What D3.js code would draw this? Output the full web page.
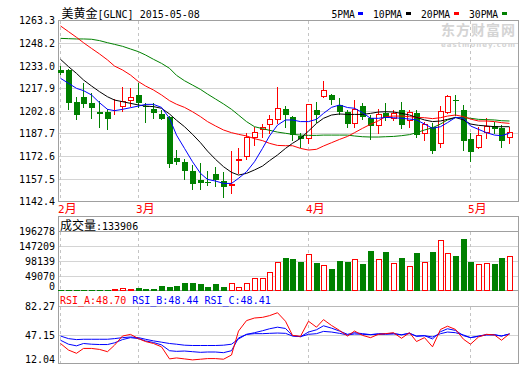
<!DOCTYPE html>
<html><head><meta charset="utf-8">
<script src="https://cdn.jsdelivr.net/npm/d3@7/dist/d3.min.js"></script>
<style>body{margin:0;background:#fff;}svg{display:block;}</style>
</head><body>
<svg id="c" width="520" height="365"></svg>
<script>
// ---------- data ----------
const titleName = "美黄金";
const titleCode = "[GLNC] 2015-05-08";
const months = ["2月", "3月", "4月", "5月"];
const monthFirstIndex = [0, 10, 32, 53];
const maNames = ["5PMA", "10PMA", "20PMA", "30PMA"];
const priceTicks = [1263.3, 1248.2, 1233.0, 1217.9, 1202.8, 1187.7, 1172.6, 1157.5, 1142.4];
const volTicks = [0, 49070, 98139, 147209, 196278];
const rsiTicks = [12.04, 47.15, 82.27];
const volLabel = "成交量:133906";
const rsiLabels = ["RSI_A:48.70", "RSI_B:48.44", "RSI_C:48.41"];

const openP = [1230.4,1230.4,1208.8,1212.3,1208.1,1202.3,1202.3,1201.2,1205.4,1209.4,1213.7,1206.3,1204.5,1201.0,1199.2,1171.8,
  1168.7,1162.9,1156.9,1155.6,1160.9,1156.4,1152.9,1169.8,1172.5,1184.7,1190.3,1193.4,1197.0,1204.1,1198.7,1186.3,
  1184.3,1203.6,1212.1,1213.4,1207.0,1202.1,1194.1,1206.3,1198.5,1193.0,1201.9,1197.6,1203.6,1196.3,1201.4,1187.4,
  1192.5,1180.9,1201.9,1210.3,1203.6,1184.3,1178.0,1188.1,1193.0,1191.4,1184.7];
const highP = [1233.3,1230.9,1212.5,1221.9,1215.2,1209.4,1204.1,1210.8,1219.2,1218.1,1221.9,1208.1,1208.1,1203.6,1199.6,1176.9,
  1170.7,1166.9,1168.0,1163.1,1165.8,1162.4,1176.2,1178.0,1188.1,1192.1,1194.3,1200.3,1218.8,1206.3,1199.6,1188.1,
  1207.4,1209.2,1223.0,1214.3,1211.4,1203.6,1210.3,1208.1,1200.3,1204.1,1208.1,1203.6,1209.2,1203.6,1203.6,1195.9,
  1194.7,1206.3,1213.7,1213.7,1207.0,1188.1,1192.5,1198.1,1195.9,1193.6,1192.5];
const lowP = [1227.7,1204.1,1197.6,1205.4,1198.5,1192.5,1191.2,1201.0,1203.2,1206.3,1205.9,1195.9,1198.5,1197.4,1165.8,1167.3,
  1157.3,1150.6,1150.6,1153.5,1152.9,1145.3,1148.4,1161.8,1170.7,1180.3,1185.8,1188.1,1195.2,1192.5,1183.6,1179.1,
  1181.4,1195.9,1212.1,1207.4,1201.0,1192.5,1192.5,1197.4,1184.5,1188.5,1197.0,1197.0,1191.4,1192.5,1185.8,1183.6,
  1175.1,1178.7,1201.4,1200.3,1176.9,1169.8,1178.0,1184.7,1188.1,1179.1,1181.4];
const closeP = [1228.6,1208.5,1200.5,1207.9,1205.2,1201.2,1197.9,1201.5,1209.7,1212.5,1208.5,1205.4,1201.9,1197.4,1167.3,1169.1,
  1163.1,1154.2,1155.1,1155.2,1156.9,1152.0,1154.2,1170.7,1185.4,1188.7,1192.1,1197.4,1204.8,1200.3,1186.7,1184.0,
  1207.4,1200.3,1217.0,1210.1,1202.5,1194.3,1204.3,1199.2,1193.0,1200.8,1198.1,1201.9,1193.6,1202.1,1186.9,1194.1,
  1176.5,1202.9,1213.0,1209.4,1183.2,1175.8,1186.9,1193.0,1190.7,1183.2,1188.7];

const ma5 = [1224.8,1221.5,1218.1,1216.6,1213.7,1208.5,1204.1,1203.2,1204.1,1205.2,1206.3,1207.4,1207.4,1205.4,1198.1,1186.9,
  1178.0,1169.1,1161.3,1157.3,1156.2,1154.6,1154.6,1158.0,1162.4,1169.1,1178.0,1186.3,1193.6,1197.0,1197.0,1195.9,1195.9,1197.4,1201.4,1205.4,1207.0,1205.3,
  1204.8,1201.9,1198.1,1198.1,1198.7,1198.5,1198.1,1197.6,1197.0,1194.3,1191.4,1192.5,1195.2,1198.7,1198.1,1193.0,1190.7,1188.5,1186.9,1186.5,1188.1];
const ma10 = [1237.5,1232.6,1228.1,1223.7,1219.7,1215.9,1212.5,1210.3,1209.2,1208.1,1207.0,1206.3,1205.9,1204.8,1201.0,1196.8,
  1192.5,1187.4,1181.8,1176.2,1170.7,1165.8,1162.0,1160.2,1161.3,1163.6,1166.2,1169.8,1173.6,1178.0,1181.4,1184.7,1189.6,1194.7,1198.1,1200.3,1201.0,1200.7,
  1200.7,1200.7,1201.4,1202.3,1202.5,1202.3,1201.4,1200.3,1198.7,1197.0,1195.9,1196.3,1197.4,1198.7,1197.0,1194.3,1193.4,1193.0,1192.5,1192.5,1192.5];
const ma20 = [1259.8,1256.0,1252.2,1248.6,1244.8,1241.1,1237.1,1233.0,1230.4,1227.0,1222.6,1219.7,1217.0,1213.7,1209.9,1207.5,
  1205.4,1202.5,1199.2,1195.9,1193.0,1190.3,1188.5,1187.4,1186.3,1184.5,1183.2,1181.4,1180.0,1179.8,1179.8,1178.0,1176.9,1177.4,1179.6,1181.8,1184.0,1186.0,
  1188.5,1191.4,1194.1,1196.5,1199.2,1199.6,1199.6,1199.2,1198.7,1198.5,1197.9,1198.5,1199.6,1200.3,1199.2,1197.6,1196.3,1196.3,1195.9,1195.2,1194.7];
const ma30 = [1251.5,1251.3,1251.1,1251.1,1250.9,1250.0,1248.6,1247.5,1246.2,1244.4,1242.6,1240.4,1237.5,1234.8,1231.5,1226.8,
  1223.2,1220.3,1217.4,1214.3,1211.0,1207.7,1204.1,1200.3,1195.9,1192.5,1191.2,1190.1,1188.9,1188.1,1187.4,1186.9,1186.7,1186.7,1186.9,1186.9,1186.9,1186.9,
  1186.3,1185.8,1185.6,1185.6,1185.8,1186.0,1186.5,1187.2,1188.5,1190.3,1191.8,1194.3,1197.0,1198.5,1198.7,1198.1,1197.4,1197.2,1197.0,1196.5,1196.3];

const volume = [3300,3000,3500,3300,3000,3300,3600,6700,11000,5600,10000,7800,7800,17800,14500,16700,
  27800,27800,24500,14500,23400,14500,26700,14500,26700,42300,
  42300,63400,96800,110200,106800,96800,123500,93500,86800,73500,100200,96800,106800,90200,133600,106800,130200,93500,
  110200,83500,126900,96800,130200,167000,126900,116900,170300,96800,90200,93500,90200,110200,116900];

const rsiA = [36.7,28.6,24.6,30.6,30.6,29.4,26.6,34.6,45.9,47.9,42.7,39.1,36.7,32.6,17.7,18.9,17.7,16.5,17.3,18.1,18.1,17.3,22.5,52.0,64.9,68.1,
  68.9,71.0,74.6,64.1,46.7,45.5,64.1,56.8,66.1,58.9,52.8,45.9,52.0,46.7,43.9,48.0,48.8,50.0,43.1,50.0,39.1,43.9,32.6,54.0,58.0,54.0,41.9,35.8,44.7,48.0,47.2,40.7,48.7];
const rsiB = [40.7,35.8,33.8,36.7,35.8,35.4,35.4,37.5,41.5,43.9,42.7,39.9,37.9,35.0,27.8,27.0,27.4,26.6,25.8,26.2,26.2,25.4,27.8,43.5,47.9,50.0,
  52.4,54.8,56.8,55.2,46.3,45.1,50.8,53.6,58.5,55.6,52.0,48.0,50.0,48.8,47.6,48.8,48.8,49.2,47.2,49.6,45.5,46.3,42.3,51.2,54.8,52.8,46.3,43.9,45.9,47.6,47.6,45.9,48.44];
const rsiC = [45.9,42.7,41.5,41.9,41.9,41.9,41.9,42.7,43.9,44.7,43.9,41.9,39.9,38.3,36.7,35.8,34.6,34.2,34.2,34.2,34.2,34.6,35.8,42.3,47.9,48.8,
  48.8,49.2,49.6,49.2,45.9,45.1,48.0,48.8,51.6,50.8,49.2,47.2,48.4,48.0,47.6,48.0,48.0,48.4,47.6,48.8,45.9,46.3,44.7,48.8,50.8,50.0,47.2,43.9,45.5,47.2,47.2,45.9,48.41];

// ---------- setup ----------
const N = closeP.length;
const RED = "#ff0000", GREEN = "#008000", BLUE = "#0000ff", BLACK = "#000000";
const maColors = [BLUE, BLACK, RED, GREEN];
const maSeries = [ma5, ma10, ma20, ma30];
const BORDER = "#a0a0a0", GRID = "#d4d4d4", DASH = "#c4c4c4";
const MONO = "'DejaVu Sans Mono', monospace";
const CJK = "'Noto Sans CJK SC', sans-serif";

const svg = d3.select("#c");
const L = 58.5, R = 518.5;
const snap = v => Math.floor(v) + 0.5;

const x = d3.scaleBand().domain(d3.range(N)).range([57.4, 57.4 + N * 7.74]);
const cx = i => Math.round(x(i) + x.bandwidth() / 2);

const y = d3.scaleLinear().domain([1142.4, 1263.3]).range([201.7, 20.7]);
const yv = d3.scaleLinear().domain([0, 196278]).range([291, 231.5]);
const yr = d3.scaleLinear().domain([12.04, 82.27]).range([363.5, 306.5]);

const pTop = snap(y(1263.3)), pBot = snap(y(1142.4));
const vTop = 216.5, vPlotTop = snap(yv(196278)), vBot = 290.5;
const rPlotTop = snap(yr(82.27)), rBot = snap(yr(12.04));

function mixed(g, str, px, py, color, latinSize, cjkSize) {
  const t = g.append("text").attr("x", px).attr("y", py).attr("fill", color);
  const parts = str.match(/[\u3000-\u9fff]+|[^\u3000-\u9fff]+/g);
  parts.forEach(p => {
    const isCjk = /[\u3000-\u9fff]/.test(p);
    t.append("tspan").attr("font-family", isCjk ? CJK : MONO)
      .attr("font-size", isCjk ? cjkSize : latinSize).text(p);
  });
  return t;
}

// ---------- watermark ----------
const wm = svg.append("g");
wm.append("text").attr("x", 441).attr("y", 35).attr("font-family", CJK).attr("font-weight", "bold")
  .attr("font-size", 14).attr("fill", "#d4d4d4").attr("textLength", 74).text("东方财富网");
wm.append("text").attr("x", 441).attr("y", 47).attr("font-family", "'DejaVu Sans', sans-serif").attr("font-weight", "bold")
  .attr("font-size", 7).attr("fill", "#d4d4d4").attr("textLength", 74).text("eastmoney.com");

// ---------- gridlines ----------
const grid = svg.append("g").attr("shape-rendering", "crispEdges");
priceTicks.slice(1, -1).forEach(t => grid.append("line").attr("x1", L).attr("x2", R)
  .attr("y1", snap(y(t))).attr("y2", snap(y(t))).attr("stroke", GRID));
volTicks.slice(1, -1).forEach(t => grid.append("line").attr("x1", L).attr("x2", R)
  .attr("y1", snap(yv(t))).attr("y2", snap(yv(t))).attr("stroke", GRID));
grid.append("line").attr("x1", L).attr("x2", R).attr("y1", snap(yr(47.15))).attr("y2", snap(yr(47.15))).attr("stroke", GRID);

// month dashed lines
monthFirstIndex.forEach(i => {
  const xx = cx(i) - 0.5;
  [[pTop, pBot], [vPlotTop, vBot], [rPlotTop, rBot]].forEach(([a, b]) =>
    grid.append("line").attr("x1", xx).attr("x2", xx).attr("y1", a).attr("y2", b)
      .attr("stroke", DASH).attr("stroke-dasharray", "3,3"));
});

// ---------- frames ----------
const fr = svg.append("g").attr("shape-rendering", "crispEdges").attr("fill", "none").attr("stroke", BORDER);
fr.append("rect").attr("x", L).attr("y", pTop).attr("width", R - L).attr("height", pBot - pTop);
fr.append("rect").attr("x", L).attr("y", vTop).attr("width", R - L).attr("height", vBot - vTop);
fr.append("rect").attr("x", L).attr("y", vBot).attr("width", R - L).attr("height", rBot - vBot);
fr.append("line").attr("x1", L).attr("x2", R).attr("y1", vPlotTop).attr("y2", vPlotTop);
fr.append("line").attr("x1", L).attr("x2", R).attr("y1", rPlotTop).attr("y2", rPlotTop).attr("stroke", "#b8b8b8");

// ---------- axes ----------
function yAxis(scale, ticks, fmt, bottomShift) {
  const g = svg.append("g").attr("transform", `translate(${L},0)`)
    .call(d3.axisLeft(scale).tickValues(ticks).tickFormat(fmt).tickSize(0).tickPadding(3.5));
  g.select(".domain").remove();
  g.selectAll("text").attr("font-family", MONO).attr("font-size", 10).attr("fill", "#000").attr("dy", "0.3em");
  if (bottomShift) g.selectAll(".tick").filter(d => d === ticks[0]).select("text").attr("dy", "-0.15em");
  return g;
}
yAxis(y, priceTicks, d3.format(".1f"), false);
yAxis(yv, volTicks, d3.format("d"), true);
yAxis(yr, rsiTicks, d3.format(".2f"), true);

// ---------- header ----------
const head = svg.append("g");
mixed(head, titleName + titleCode, 61.5, 17.5, "#000", 10, 12);
const leg = head.append("g");
let lx = 331.5;
maNames.forEach((n, k) => {
  const t = leg.append("text").attr("x", lx).attr("y", 17.5).attr("font-family", MONO)
    .attr("font-size", 9.7).attr("fill", "#000").text(n);
  const w = t.node().getComputedTextLength();
  leg.append("rect").attr("x", Math.round(lx + w + 3.5)).attr("y", 12).attr("width", 5).attr("height", 3)
    .attr("fill", maColors[k]).attr("shape-rendering", "crispEdges");
  lx = Math.round(lx + w + 3.5) + 5 + 10;
});

// month labels
monthFirstIndex.forEach((i, k) => mixed(svg, months[k], cx(i) - 3, 213, RED, 11, 12));

// volume & rsi labels
mixed(svg, volLabel, 60, 230, "#000", 10, 12);
let rx = 60;
rsiLabels.forEach((s, k) => {
  const t = svg.append("text").attr("x", rx).attr("y", 304).attr("font-family", MONO).attr("font-size", 10)
    .attr("fill", k === 0 ? RED : BLUE).text(s);
  rx += t.node().getComputedTextLength() + 6;
});

// ---------- candles ----------
const cg = svg.append("g").attr("shape-rendering", "crispEdges");
d3.range(N).forEach(i => {
  const up = closeP[i] >= openP[i];
  const col = up ? RED : GREEN;
  const c = cx(i);
  const yt = Math.round(y(Math.max(openP[i], closeP[i])));
  const yb = Math.max(yt + 1, Math.round(y(Math.min(openP[i], closeP[i]))));
  cg.append("line").attr("x1", c - 0.5).attr("x2", c - 0.5)
    .attr("y1", Math.round(y(highP[i]))).attr("y2", Math.round(y(lowP[i])) + 1).attr("stroke", col);
  if (up) {
    cg.append("rect").attr("x", c - 2.5).attr("y", yt + 0.5).attr("width", 5).attr("height", Math.max(0, yb - yt - 1))
      .attr("fill", "#fff").attr("stroke", col);
  } else {
    cg.append("rect").attr("x", c - 3).attr("y", yt).attr("width", 6).attr("height", yb - yt).attr("fill", col);
  }
});

// ---------- moving averages ----------
svg.append("clipPath").attr("id", "pclip").append("rect")
  .attr("x", L).attr("y", pTop).attr("width", R - L).attr("height", pBot - pTop);
const maG = svg.append("g").attr("clip-path", "url(#pclip)");
const maLine = d3.line().x((d, i) => cx(i) - 0.5).y(d => y(d));
[ma30, ma20, ma10, ma5].forEach((s) => {
  maG.append("path").attr("d", maLine(s)).attr("fill", "none")
    .attr("stroke", maColors[maSeries.indexOf(s)]).attr("stroke-width", 1);
});

// ---------- volume ----------
const vg = svg.append("g").attr("shape-rendering", "crispEdges");
d3.range(N).forEach(i => {
  const up = closeP[i] >= openP[i];
  const c = cx(i);
  const top = Math.round(yv(volume[i]));
  const h = Math.round(vBot) - top;
  if (up) {
    vg.append("rect").attr("x", c - 2.5).attr("y", top + 0.5).attr("width", 5).attr("height", Math.max(0, h - 1))
      .attr("fill", "#fff").attr("stroke", RED);
  } else {
    vg.append("rect").attr("x", c - 3).attr("y", top).attr("width", 6).attr("height", Math.max(1, h)).attr("fill", GREEN);
  }
});

// ---------- RSI ----------
svg.append("clipPath").attr("id", "rclip").append("rect")
  .attr("x", L).attr("y", rPlotTop).attr("width", R - L).attr("height", rBot - rPlotTop);
const rg = svg.append("g").attr("clip-path", "url(#rclip)");
const rLine = d3.line().x((d, i) => cx(i) - 0.5).y(d => yr(d));
[[rsiC, BLUE], [rsiB, BLUE], [rsiA, RED]].forEach(([s, col]) =>
  rg.append("path").attr("d", rLine(s)).attr("fill", "none").attr("stroke", col).attr("stroke-width", 1));
</script>
</body></html>
